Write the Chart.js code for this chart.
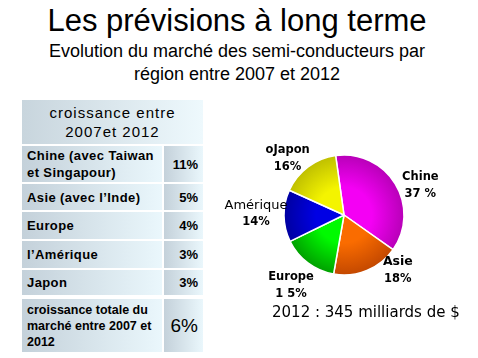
<!DOCTYPE html>
<html>
<head>
<meta charset="utf-8">
<script src="https://cdn.jsdelivr.net/npm/chart.js@4"></script>
<style>
body { margin:0; width:478px; height:358px; background:#fff; font-family:"Liberation Sans", Arial, sans-serif; position:relative; overflow:hidden; }
#title { position:absolute; left:0; top:3px; width:474px; text-align:center; font-size:31px; line-height:35px; color:#000; }
#sub { position:absolute; left:0; top:40px; width:474px; text-align:center; font-size:18px; line-height:23px; color:#000; }
.cell { position:absolute; background:linear-gradient(to right, #c4d1da, #eaf7fc); font-weight:bold; font-size:13px; color:#000; box-sizing:border-box; }
.lab { left:22px; width:140px; padding-left:5px; display:flex; align-items:center; line-height:17px; letter-spacing:0.4px; }
.val { left:164px; width:39px; display:flex; align-items:center; justify-content:flex-end; padding-right:5px; }
#head { position:absolute; left:22px; top:100px; width:181px; height:44px; background:linear-gradient(to right, #c8d5dd, #eef9fd); text-align:center; font-size:15px; line-height:19px; letter-spacing:1px; padding-top:3px; box-sizing:border-box; }
#pieWrap { position:absolute; left:214px; top:125px; width:260px; height:180px; }
#note { position:absolute; left:272px; top:303px; font-family:"DejaVu Sans", sans-serif; font-size:15px; color:#000; white-space:nowrap; }
</style>
</head>
<body>
<div id="title">Les prévisions à long terme</div>
<div id="sub">Evolution du marché des semi-conducteurs par<br>région entre 2007 et 2012</div>
<div id="head">croissance entre<br>2007et 2012</div>
<div id="table"></div>
<div id="pieWrap"><canvas id="pie" width="260" height="180"></canvas></div>
<div id="note"></div>

<script>
// table: growth 2007-2012
const regionRows = ['Chine (avec Taiwan et Singapour)', 'Asie (avec l\u2019Inde)', 'Europe', 'l\u2019Amérique', 'Japon'];
const growth = ['11%', '5%', '4%', '3%', '3%'];
const totalLabel = 'croissance totale du marché entre 2007 et 2012';
const totalGrowth = '6%';

// pie: market share 2012
const pieLabels = ['Chine', 'Asie', 'Europe', 'Amérique', 'oJapon'];
const pieShares = [37, 18, 15, 14, 16];
const pieShareText = ['37 %', '18%', '1 5%', '14%', '16%'];
const pieNote = '2012 : 345 milliards de $';

const rowTops = [146, 184, 212, 241, 270];
const rowHeights = [36, 26, 27, 27, 25];

const table = document.getElementById('table');
for (let i = 0; i < regionRows.length; i++) {
    const l = document.createElement('div');
    l.className = 'cell lab';
    l.style.top = rowTops[i] + 'px';
    l.style.height = rowHeights[i] + 'px';
    l.textContent = regionRows[i];
    table.appendChild(l);
    const v = document.createElement('div');
    v.className = 'cell val';
    v.style.top = rowTops[i] + 'px';
    v.style.height = rowHeights[i] + 'px';
    v.textContent = growth[i];
    table.appendChild(v);
}
const tl = document.createElement('div');
tl.className = 'cell lab';
tl.style.top = '299px';
tl.style.height = '53px';
tl.style.fontSize = '12.5px';
tl.style.lineHeight = '16px';
tl.style.letterSpacing = '0';
tl.textContent = totalLabel;
table.appendChild(tl);
const tv = document.createElement('div');
tv.className = 'cell val';
tv.style.top = '299px';
tv.style.height = '53px';
tv.style.fontSize = '19px';
tv.style.fontWeight = 'normal';
tv.textContent = totalGrowth;
table.appendChild(tv);

document.getElementById('note').textContent = pieNote;

const lightCols = ['#f400f4', '#fa6c00', '#00fa00', '#0000e4', '#f4f400'];
const darkCols = ['#b400b4', '#c04600', '#009a00', '#00009c', '#bcbc00'];

function sliceFill(context) {
    const i = context.dataIndex;
    const chart = context.chart;
    const area = chart.chartArea;
    if (!area) return darkCols[i];
    const cx = (area.left + area.right) / 2;
    const cy = (area.top + area.bottom) / 2;
    const g = chart.ctx.createRadialGradient(cx, cy, 0, cx, cy, 62);
    g.addColorStop(0, lightCols[i]);
    g.addColorStop(0.45, lightCols[i]);
    g.addColorStop(1, darkCols[i]);
    return g;
}

const pieLabelPlugin = {
    id: 'pieLabelPlugin',
    afterDatasetsDraw(chart, args, opts) {
        const ctx = chart.ctx;
        const arcs = chart.getDatasetMeta(0).data;
        ctx.save();
        ctx.fillStyle = '#000';
        ctx.textAlign = 'center';
        ctx.textBaseline = 'middle';
        arcs.forEach((arc, i) => {
            const mid = (arc.startAngle + arc.endAngle) / 2 + opts.shift[i] * Math.PI / 180;
            const d = arc.outerRadius + opts.gap[i];
            const x = arc.x + Math.cos(mid) * d;
            const y = arc.y + Math.sin(mid) * d;
            ctx.font = opts.fonts[i];
            ctx.fillText(pieLabels[i], x, y - 8);
            ctx.font = 'bold 11.5px "DejaVu Sans"';
            ctx.fillText(pieShareText[i], x, y + 9);
        });
        ctx.restore();
    }
};

new Chart(document.getElementById('pie').getContext('2d'), {
    type: 'pie',
    data: {
        labels: pieLabels,
        datasets: [{
            data: pieShares,
            backgroundColor: sliceFill,
            borderColor: '#ffffff',
            borderWidth: 1.5
        }]
    },
    options: {
        responsive: false,
        animation: false,
        rotation: -8,
        radius: 60,
        layout: { padding: { left: 70, right: 70, top: 30, bottom: 30 } },
        plugins: {
            legend: { display: false },
            tooltip: { enabled: false },
            pieLabelPlugin: {
                shift: [10, -22, 0, 2, -8],
                gap: [22, 17, 28, 28, 20],
                fonts: ['bold 11.5px "DejaVu Sans"', 'bold 12.5px "DejaVu Sans"', 'bold 11.5px "DejaVu Sans"', '13px "DejaVu Sans"', 'bold 11.5px "DejaVu Sans"']
            }
        }
    },
    plugins: [pieLabelPlugin]
});
</script>
</body>
</html>
